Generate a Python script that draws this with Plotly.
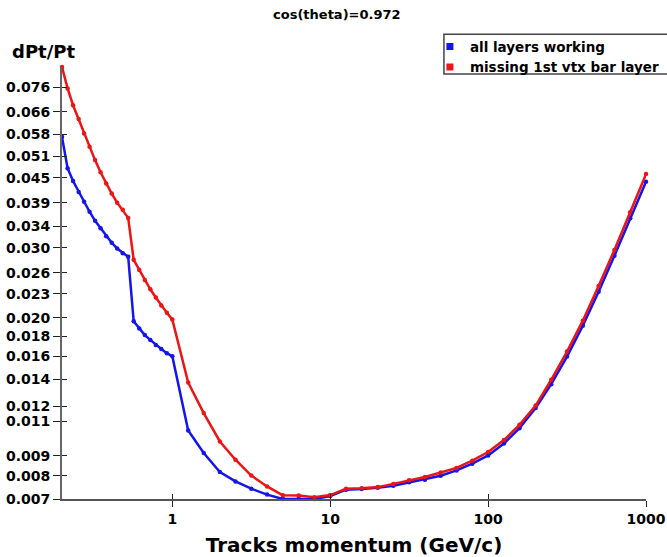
import math
import plotly.graph_objects as go

# Track momentum points (GeV/c)
momentum = [0.2, 0.217, 0.235, 0.255, 0.276, 0.299, 0.324, 0.351, 0.381, 0.413,
            0.447, 0.485, 0.525, 0.569, 0.617, 0.669, 0.725, 0.786, 0.851, 0.923,
            1.0, 1.26, 1.58, 2.0, 2.51, 3.16, 3.98, 5.01, 6.31, 7.94,
            10.0, 12.6, 15.8, 20.0, 25.1, 31.6, 39.8, 50.1, 63.1, 79.4,
            100, 126, 158, 200, 251, 316, 398, 501, 631, 794, 1000]

# Relative momentum resolution, all layers working
res_all = [0.0571, 0.0476, 0.0442, 0.0415, 0.0392, 0.0370, 0.0351, 0.0336, 0.0321, 0.0309,
           0.0299, 0.0291, 0.0285, 0.0196, 0.0188, 0.0181, 0.0176, 0.0171, 0.0167, 0.0163,
           0.0160, 0.01041, 0.00914, 0.00818, 0.00775, 0.00743, 0.00718, 0.00700, 0.00701, 0.00700,
           0.00712, 0.00739, 0.00742, 0.00747, 0.00756, 0.00771, 0.00783, 0.00801, 0.00826, 0.00859,
           0.00901, 0.00966, 0.01055, 0.01186, 0.01362, 0.01598, 0.01912, 0.02328, 0.02867, 0.03561,
           0.04400]

# Relative momentum resolution, first vertex barrel layer missing
res_missing = [0.0856, 0.0756, 0.0686, 0.0633, 0.0582, 0.0539, 0.0499, 0.0465, 0.0436, 0.0411,
               0.0390, 0.0374, 0.0357, 0.0280, 0.0264, 0.0249, 0.0236, 0.0225, 0.0215, 0.0206,
               0.0198, 0.01375, 0.01152, 0.00977, 0.00879, 0.00802, 0.00753, 0.00715, 0.00714, 0.00707,
               0.00716, 0.00743, 0.00745, 0.00750, 0.00764, 0.00780, 0.00795, 0.00816, 0.00838, 0.00874,
               0.00919, 0.00985, 0.01076, 0.01203, 0.01397, 0.01645, 0.01968, 0.02407, 0.02964, 0.03687,
               0.04601]

series_names = ["all layers working", "missing 1st vtx bar layer"]
series_colors = ["#1414ec", "#ec1414"]

y_ticks = [0.007, 0.008, 0.009, 0.011, 0.012, 0.014, 0.016, 0.018, 0.020, 0.023,
           0.026, 0.030, 0.034, 0.039, 0.045, 0.051, 0.058, 0.066, 0.076]
y_tick_text = ["0.007", "0.008", "0.009", "0.011", "0.012", "0.014", "0.016", "0.018", "0.020", "0.023",
               "0.026", "0.030", "0.034", "0.039", "0.045", "0.051", "0.058", "0.066", "0.076"]
x_ticks = [1, 10, 100, 1000]
x_tick_text = ["1", "10", "100", "1000"]

FONT = "DejaVu Sans"
x_range = [math.log10(0.2), 3]
y_range = [math.log10(0.007), math.log10(0.0856)]

fig = go.Figure()
for ys, name, col in zip([res_all, res_missing], series_names, series_colors):
    fig.add_trace(go.Scatter(
        x=momentum, y=ys, mode="lines+markers", name=name, showlegend=False,
        line=dict(color=col, width=2.5), marker=dict(color=col, size=4.5),
        cliponaxis=False,
    ))
    # legend entry: a small square swatch
    fig.add_trace(go.Scatter(
        x=[None], y=[None], mode="markers", name=name,
        marker=dict(color=col, size=7, symbol="square"),
    ))

# carrier for the inner tick marks (ticks cross the axis lines)
fig.add_trace(go.Scatter(x=[None], y=[None], xaxis="x2", yaxis="y2",
                         showlegend=False, hoverinfo="skip"))

fig.update_layout(
    width=667, height=557,
    margin=dict(l=62, r=21, t=67, b=58, autoexpand=False),
    paper_bgcolor="white", plot_bgcolor="white",
    font=dict(family=FONT, color="black"),
    title=dict(text="cos(theta)=0.972", x=0.505, xref="container",
               y=1 - 14 / 557, yanchor="middle", xanchor="center",
               font=dict(family=FONT, size=13, weight="bold", color="black")),
    xaxis=dict(type="log", range=x_range, tickvals=x_ticks, ticktext=x_tick_text,
               ticks="outside", ticklen=6, tickwidth=1.2, tickcolor="#222",
               showline=True, linecolor="#555", linewidth=1.5, showgrid=False, zeroline=False,
               tickfont=dict(family=FONT, size=14, weight="bold", color="black"),
               title=dict(text="Tracks momentum (GeV/c)", standoff=13,
                          font=dict(family=FONT, size=20, weight="bold", color="black"))),
    yaxis=dict(type="log", range=y_range, tickvals=y_ticks, ticktext=y_tick_text,
               ticks="outside", ticklen=7, tickwidth=1.2, tickcolor="#222",
               showline=True, linecolor="#666", linewidth=2, showgrid=False, zeroline=False,
               tickfont=dict(family=FONT, size=14, weight="bold", color="black")),
    xaxis2=dict(type="log", range=x_range, overlaying="x", anchor="y", side="bottom",
                tickvals=x_ticks, ticks="inside", ticklen=5, tickwidth=1.2, tickcolor="#222",
                showticklabels=False, showline=False, showgrid=False, zeroline=False),
    yaxis2=dict(type="log", range=y_range, overlaying="y", anchor="x", side="left",
                tickvals=y_ticks, ticks="inside", ticklen=5, tickwidth=1.2, tickcolor="#222",
                showticklabels=False, showline=False, showgrid=False, zeroline=False),
    legend=dict(x=0.630, y=1.083, xanchor="left", yanchor="top",
                bgcolor="rgba(0,0,0,0)", borderwidth=0, tracegroupgap=0,
                font=dict(family=FONT, size=13.5, weight="bold", color="black")),
    showlegend=True,
)

# legend frame
fig.add_shape(type="rect", xref="paper", yref="paper",
              x0=0.654, x1=1.1, y0=0.984, y1=1.076,
              line=dict(color="#444", width=1.5), fillcolor="white", layer="below")

# y-axis caption above the axis
fig.add_annotation(text="dPt/Pt", xref="paper", yref="paper",
                   x=-0.089, y=1.035, xanchor="left", yanchor="middle", showarrow=False,
                   font=dict(family=FONT, size=18, weight="bold", color="black"))

fig.write_html("out.html")
